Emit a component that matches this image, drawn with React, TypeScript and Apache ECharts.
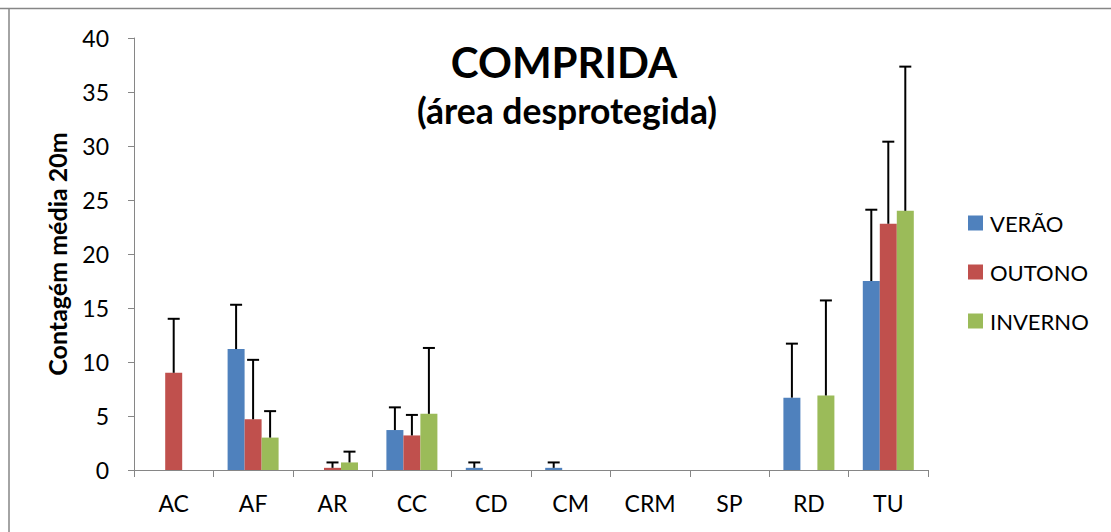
import React, { useEffect, useRef } from "react";
import * as echarts from "echarts";

const categories = ["AC", "AF", "AR", "CC", "CD", "CM", "CRM", "SP", "RD", "TU"];
const seriesNames = ["VERÃO", "OUTONO", "INVERNO"];
const verao = [0, 11.2, 0, 3.7, 0.2, 0.2, 0, 0, 6.7, 17.5];
const outono = [9.0, 4.7, 0.2, 3.2, 0, 0, 0, 0, 0, 22.8];
const inverno = [0, 3.0, 0.7, 5.2, 0, 0, 0, 0, 6.9, 24.0];
const veraoErr = [0, 4.1, 0, 2.1, 0.5, 0.5, 0, 0, 5.0, 6.6];
const outonoErr = [5.0, 5.5, 0.5, 1.9, 0, 0, 0, 0, 0, 7.6];
const invernoErr = [0, 2.45, 1.0, 6.1, 0, 0, 0, 0, 8.8, 13.35];
const yTicks = { min: 0, max: 40, interval: 5 };

const colors = ["#4F81BD", "#C0504D", "#9BBB59"];
const FONT = "Lato, 'Open Sans', sans-serif";
const BAR_W = 17;

export default function App() {
  const ref = useRef<HTMLDivElement>(null);
  useEffect(() => {
    document.body.style.margin = "0";
    document.body.style.overflow = "hidden";
    const chart = echarts.init(ref.current!, null, { renderer: "svg" });
    const values = [verao, outono, inverno];
    const errs = [veraoErr, outonoErr, invernoErr];
    const barSeries = values.map((vals, s) => ({
      name: seriesNames[s],
      type: "bar",
      data: vals,
      barWidth: BAR_W,
      barGap: "0%",
      itemStyle: { color: colors[s] },
      z: 2,
    }));
    const errSeries = values.map((vals, s) => ({
      type: "custom",
      name: seriesNames[s] + "_err",
      data: vals.map((v, i) => [i, v, errs[s][i]]),
      z: 3,
      silent: true,
      renderItem: (params: any, api: any) => {
        const idx = api.value(0);
        const v = api.value(1);
        const e = api.value(2);
        if (!e) return null;
        const base = api.coord([idx, v]);
        const top = api.coord([idx, v + e]);
        const x = base[0] + (s - 1) * BAR_W;
        return {
          type: "group",
          children: [
            { type: "line", shape: { x1: x, y1: base[1], x2: x, y2: top[1] }, style: { stroke: "#000", lineWidth: 2 } },
            { type: "line", shape: { x1: x - 6, y1: top[1], x2: x + 6, y2: top[1] }, style: { stroke: "#000", lineWidth: 2 } },
          ],
        };
      },
    }));
    chart.setOption({
      animation: false,
      textStyle: { fontFamily: FONT },
      title: [
        {
          text: "COMPRIDA",
          left: 559,
          top: 36,
          textAlign: "center",
          textStyle: { fontFamily: FONT, fontSize: 42, fontWeight: "bold", color: "#000" },
        },
        {
          text: "(área desprotegida)",
          left: 562,
          top: 87,
          textAlign: "center",
          textStyle: { fontFamily: FONT, fontSize: 35.5, fontWeight: "bold", color: "#000" },
        },
      ],
      legend: {
        orient: "vertical",
        left: 963,
        top: 207,
        itemWidth: 15,
        itemHeight: 15,
        itemGap: 27,
        icon: "rect",
        data: seriesNames,
        textStyle: { fontFamily: FONT, fontSize: 22, color: "#000", padding: [0, 0, 0, 2] },
      },
      grid: { left: 134, right: 183, top: 38, bottom: 62 },
      xAxis: {
        type: "category",
        data: categories,
        axisLine: { lineStyle: { color: "#868686", width: 1 } },
        axisTick: { show: true, length: 7, lineStyle: { color: "#868686" } },
        axisLabel: { fontFamily: FONT, fontSize: 23, color: "#000", margin: 21 },
      },
      yAxis: {
        type: "value",
        min: yTicks.min,
        max: yTicks.max,
        interval: yTicks.interval,
        name: "Contagém média 20m",
        nameLocation: "middle",
        nameGap: 65,
        nameTextStyle: { fontFamily: FONT, fontSize: 25, fontWeight: "bold", color: "#000" },
        axisLine: { show: true, lineStyle: { color: "#868686", width: 1 } },
        axisTick: { show: true, length: 6, lineStyle: { color: "#868686" } },
        splitLine: { show: false },
        axisLabel: { fontFamily: FONT, fontSize: 23, color: "#000", margin: 25 },
      },
      graphic: [
        { type: "line", shape: { x1: 0, y1: 8.5, x2: 1111, y2: 8.5 }, style: { stroke: "#868686", lineWidth: 1.5 } },
        { type: "line", shape: { x1: 9, y1: 8, x2: 9, y2: 532 }, style: { stroke: "#868686", lineWidth: 1.5 } },
      ],
      series: [...barSeries, ...errSeries],
    });
    return () => chart.dispose();
  }, []);
  return <div ref={ref} style={{ width: 1111, height: 532 }} />;
}
